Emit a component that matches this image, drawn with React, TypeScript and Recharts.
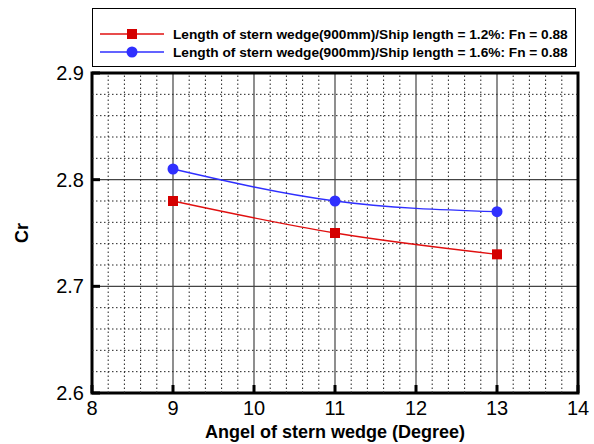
import React from "react";
import {
  LineChart,
  Line,
  XAxis,
  YAxis,
  CartesianGrid,
  ReferenceLine,
  ReferenceArea,
} from "recharts";

const angles = [9, 11, 13];
const cr12 = [2.78, 2.75, 2.73];
const cr16 = [2.81, 2.78, 2.77];
const seriesNames = [
  "Length of stern wedge(900mm)/Ship length = 1.2%: Fn = 0.88",
  "Length of stern wedge(900mm)/Ship length = 1.6%: Fn = 0.88",
];
const seriesColors = ["#e01010", "#2f2fff"];
const markerColors = ["#d40000", "#3030ff"];
const xTicks = [8, 9, 10, 11, 12, 13, 14];
const yTicks = [2.6, 2.7, 2.8, 2.9];
const xMinorTicks = [
  8.2, 8.4, 8.6, 8.8, 9.2, 9.4, 9.6, 9.8, 10.2, 10.4, 10.6, 10.8, 11.2, 11.4,
  11.6, 11.8, 12.2, 12.4, 12.6, 12.8, 13.2, 13.4, 13.6, 13.8,
];
const yMinorTicks = [
  2.62, 2.64, 2.66, 2.68, 2.72, 2.74, 2.76, 2.78, 2.82, 2.84, 2.86, 2.88,
];
const xLabel = "Angel of stern wedge (Degree)";
const yLabel = "Cr";

const data = angles.map((a, i) => ({ angle: a, s12: cr12[i], s16: cr16[i] }));

const FONT = "'Liberation Sans', Arial, sans-serif";

const BottomTick = (props: any) => {
  const { x, y, payload } = props;
  return (
    <g>
      <line x1={x} y1={y} x2={x} y2={y - 8} stroke="#000" strokeWidth={3} />
      <text
        x={x}
        y={y + 8}
        dy="0.71em"
        textAnchor="middle"
        fontSize={20}
        fontFamily={FONT}
        fill="#000"
      >
        {payload.value}
      </text>
    </g>
  );
};

const LeftTick = (props: any) => {
  const { x, y, payload } = props;
  return (
    <g>
      <line x1={x} y1={y} x2={x + 8} y2={y} stroke="#000" strokeWidth={3} />
      <text
        x={x - 8}
        y={y}
        dy="0.355em"
        textAnchor="end"
        fontSize={20}
        fontFamily={FONT}
        fill="#000"
      >
        {Number(payload.value).toFixed(1)}
      </text>
    </g>
  );
};

const TopTick = (props: any) => {
  const { x, y } = props;
  return <line x1={x} y1={y} x2={x} y2={y + 8} stroke="#000" strokeWidth={3} />;
};

const RightTick = (props: any) => {
  const { x, y } = props;
  return <line x1={x} y1={y} x2={x - 8} y2={y} stroke="#000" strokeWidth={3} />;
};

const SquareDot = (props: any) => {
  const { cx, cy } = props;
  if (cx == null || cy == null) return null;
  return <rect x={cx - 5} y={cy - 5} width={10} height={10} fill={markerColors[0]} />;
};

const CircleDot = (props: any) => {
  const { cx, cy } = props;
  if (cx == null || cy == null) return null;
  return <circle cx={cx} cy={cy} r={5.5} fill={markerColors[1]} />;
};

export default function App() {
  return (
    <div style={{ position: "absolute", left: 0, top: 0, width: 594, height: 444, background: "#fff" }}>
      <LineChart
        width={594}
        height={444}
        data={data}
        margin={{ top: 73, right: 16, bottom: 0, left: 0 }}
      >
        <CartesianGrid stroke="#444" strokeWidth={1.2} />
        {xMinorTicks.map((v) => (
          <ReferenceLine
            key={"xm" + v}
            x={v}
            stroke="#222"
            strokeWidth={1}
            strokeDasharray="1.5 2.5"
          />
        ))}
        {yMinorTicks.map((v) => (
          <ReferenceLine
            key={"ym" + v}
            y={v}
            stroke="#222"
            strokeWidth={1}
            strokeDasharray="1.5 2.5"
          />
        ))}
        <XAxis
          dataKey="angle"
          type="number"
          domain={[8, 14]}
          ticks={xTicks}
          interval={0}
          allowDataOverflow
          axisLine={false}
          tickLine={false}
          tickSize={0}
          tickMargin={0}
          tick={<BottomTick />}
          height={51}
          label={{
            value: xLabel,
            position: "insideBottom",
            offset: 6,
            style: { fontSize: 18, fontWeight: "bold", fontFamily: FONT, fill: "#000" },
          }}
        />
        <XAxis
          xAxisId="top"
          orientation="top"
          dataKey="angle"
          type="number"
          domain={[8, 14]}
          ticks={xTicks}
          interval={0}
          allowDataOverflow
          axisLine={false}
          tickLine={false}
          tickSize={0}
          tickMargin={0}
          tick={<TopTick />}
          height={0}
        />
        <YAxis
          type="number"
          domain={[2.6, 2.9]}
          ticks={yTicks}
          interval={0}
          allowDataOverflow
          axisLine={false}
          tickLine={false}
          tickSize={0}
          tickMargin={0}
          tick={<LeftTick />}
          width={92}
          label={{
            value: yLabel,
            angle: -90,
            position: "insideLeft",
            offset: 22,
            style: { fontSize: 18, fontWeight: "bold", fontFamily: FONT, fill: "#000", textAnchor: "middle" },
          }}
        />
        <YAxis
          yAxisId="right"
          orientation="right"
          type="number"
          domain={[2.6, 2.9]}
          ticks={yTicks}
          interval={0}
          allowDataOverflow
          axisLine={false}
          tickLine={false}
          tickSize={0}
          tickMargin={0}
          tick={<RightTick />}
          width={0}
        />
        <ReferenceArea
          x1={8}
          x2={14}
          y1={2.6}
          y2={2.9}
          fill="none"
          fillOpacity={0}
          stroke="#000"
          strokeWidth={3}
        />
        <Line
          dataKey="s12"
          name={seriesNames[0]}
          type="monotone"
          stroke={seriesColors[0]}
          strokeWidth={1.3}
          dot={<SquareDot />}
          activeDot={false}
          isAnimationActive={false}
        />
        <Line
          dataKey="s16"
          name={seriesNames[1]}
          type="monotone"
          stroke={seriesColors[1]}
          strokeWidth={1.3}
          dot={<CircleDot />}
          activeDot={false}
          isAnimationActive={false}
        />
      </LineChart>
      <div
        style={{
          position: "absolute",
          left: 92,
          top: 8,
          width: 484,
          height: 59,
          border: "1.5px solid #000",
          background: "#fff",
          boxSizing: "border-box",
          fontFamily: FONT,
          fontWeight: "bold",
          fontSize: 13.7,
          color: "#000",
        }}
      >
        {seriesNames.map((name, i) => (
          <div
            key={name}
            style={{
              position: "absolute",
              left: 0,
              top: 16 + i * 18,
              height: 18,
              display: "flex",
              alignItems: "center",
              whiteSpace: "nowrap",
            }}
          >
            <svg width={80} height={18} style={{ display: "block" }}>
              <line x1={7} y1={9} x2={71} y2={9} stroke={seriesColors[i]} strokeWidth={1.3} />
              {i === 0 ? (
                <rect x={34} y={4} width={10} height={10} fill={markerColors[0]} />
              ) : (
                <circle cx={39} cy={9} r={5.5} fill={markerColors[1]} />
              )}
            </svg>
            <span>{name}</span>
          </div>
        ))}
      </div>
    </div>
  );
}
